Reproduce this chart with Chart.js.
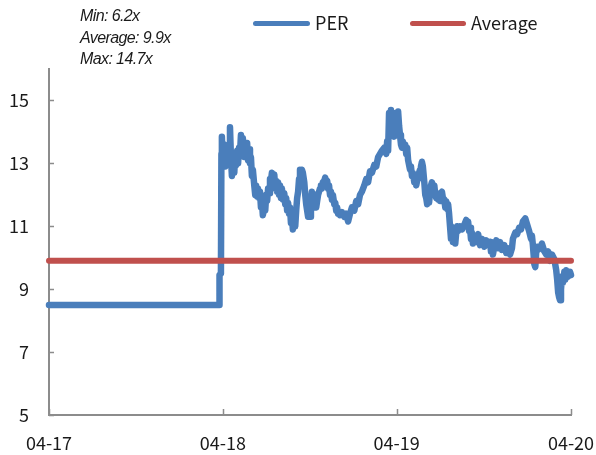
<!DOCTYPE html>
<html>
<head>
<meta charset="utf-8">
<script src="https://cdn.jsdelivr.net/npm/chart.js@4.4.1/dist/chart.umd.min.js"></script>
<style>
  html, body { margin: 0; padding: 0; background: #fff; }
  #wrap { position: relative; width: 596px; height: 455px; overflow: hidden; }
  canvas { position: absolute; left: 0; top: 0; }
  .note { position: absolute; left: 80px; font: italic 16px "Liberation Sans", Arial, sans-serif; color: #1a1a1a; letter-spacing: -0.6px; line-height: 20px; white-space: nowrap; }
  .lg-line { position: absolute; height: 5px; border-radius: 3px; }
  .lg-text { position: absolute; font: 18px "Noto Sans CJK KR", "Noto Sans", sans-serif; color: #1a1a1a; line-height: 22px; white-space: nowrap; }
</style>
</head>
<body>
<div id="wrap">
  <canvas id="c" width="596" height="455"></canvas>
  <div class="note" style="top:6px">Min: 6.2x</div>
  <div class="note" style="top:28px">Average: 9.9x</div>
  <div class="note" style="top:49px">Max: 14.7x</div>
  <div class="lg-line" style="left:253px; top:21px; width:57px; background:#4a7ebb"></div>
  <div class="lg-text" style="left:315px; top:11px">PER</div>
  <div class="lg-line" style="left:410px; top:21px; width:56px; background:#c0504d"></div>
  <div class="lg-text" style="left:471px; top:11px">Average</div>
</div>
<script>
// Trailing P/E multiple, days counted from 2017-04-01
const days = [
  0, 120, 240, 357, 358, 361, 362, 363, 365, 368, 370, 372, 374, 376, 378, 380,
  382, 384, 386, 389, 391, 393, 395, 397, 399, 401, 403, 405, 407, 410, 412, 414,
  416, 418, 420, 422, 424, 426, 428, 431, 433, 435, 437, 439, 441, 443, 445, 447,
  449, 452, 454, 456, 458, 460, 462, 464, 466, 468, 470, 473, 475, 477, 479, 481,
  483, 485, 487, 489, 491, 494, 496, 498, 500, 502, 504, 506, 508, 510, 512, 515,
  517, 519, 521, 523, 525, 527, 529, 531, 533, 536, 538, 540, 542, 544, 546, 548,
  550, 552, 554, 557, 559, 561, 563, 565, 567, 569, 571, 573, 575, 578, 580, 582,
  584, 586, 588, 590, 592, 594, 596, 599, 601, 603, 605, 607, 609, 611, 615, 620,
  624, 628, 632, 636, 641, 645, 649, 653, 657, 662, 666, 670, 674, 678, 683, 687,
  691, 695, 699, 704, 708, 710, 712, 714, 716, 718, 720, 722, 725, 727, 729, 731,
  733, 735, 737, 739, 741, 743, 746, 748, 750, 752, 754, 756, 758, 760, 762, 764,
  767, 769, 771, 773, 775, 777, 779, 781, 783, 785, 788, 790, 792, 794, 796, 798,
  800, 802, 804, 806, 809, 811, 813, 815, 817, 819, 821, 823, 825, 827, 830, 832,
  834, 836, 838, 840, 842, 844, 846, 848, 851, 853, 855, 857, 859, 863, 867, 872,
  876, 878, 880, 882, 884, 886, 888, 890, 893, 897, 901, 905, 909, 914, 918, 922,
  926, 928, 930, 932, 935, 939, 943, 947, 951, 956, 960, 964, 968, 972, 974, 979,
  983, 987, 991, 995, 1000, 1004, 1008, 1012, 1014, 1016, 1019, 1021, 1023, 1025, 1027, 1031,
  1035, 1040, 1044, 1048, 1052, 1056, 1061, 1065, 1067, 1069, 1071, 1073, 1075, 1077, 1079, 1082,
  1084, 1086, 1090, 1094, 1096
];
const per = [
  8.5, 8.5, 8.5, 8.5, 9.45, 9.5, 13.3, 13.85, 13.0, 13.6, 12.9, 13.3, 13.05, 13.5, 13.1, 14.15,
  13.2, 12.6, 13.0, 12.7, 13.3, 12.95, 13.4, 13.0, 13.5, 13.3, 13.9, 13.4, 13.8, 13.2, 13.6, 13.3,
  13.65, 13.1, 13.45, 13.0, 13.2, 12.6, 12.8, 12.3, 12.0, 12.3, 11.95, 12.2, 11.9, 12.1, 11.6, 11.8,
  11.35, 11.6, 11.5, 12.0, 11.8, 12.2, 12.05, 12.5, 12.45, 12.7, 12.4, 12.65, 12.2, 12.45, 12.1, 12.4,
  12.0, 12.3, 11.9, 12.2, 11.85, 12.05, 11.7, 11.9, 11.5, 11.75, 11.4, 11.6, 11.1, 11.3, 10.9, 11.2,
  11.0, 11.5, 11.9, 12.1, 12.5, 12.8, 12.6, 12.8, 12.7, 12.4, 12.0, 11.7, 11.5, 11.3, 11.5, 11.3,
  11.8, 12.1, 11.9, 11.6, 12.0, 11.6, 11.8, 12.0, 12.1, 12.2, 12.3, 12.2, 12.4, 12.45, 12.55, 12.4,
  12.45, 12.2, 12.3, 12.0, 12.1, 11.85, 12.0, 11.7, 11.75, 11.5, 11.6, 11.4, 11.45, 11.35, 11.45, 11.3,
  11.4, 11.15, 11.4, 11.6, 11.5, 11.8, 11.7, 12.0, 12.1, 12.3, 12.5, 12.4, 12.75, 12.7, 12.95, 12.9,
  13.2, 13.3, 13.4, 13.5, 13.3, 13.7, 13.4, 14.6, 14.1, 14.7, 13.9, 14.3, 13.85, 14.0, 14.6, 14.2,
  14.65, 14.2, 13.9, 13.6, 13.5, 13.7, 13.5, 13.6, 13.3, 13.5, 13.1, 12.95, 12.8, 12.9, 12.6, 12.7,
  12.4, 12.5, 12.3, 12.45, 12.5, 12.7, 12.8, 12.9, 13.05, 12.9, 12.4, 12.0, 11.9, 11.7, 11.9, 11.75,
  12.1, 12.3, 12.4, 12.2, 12.3, 12.0, 11.9, 12.05, 11.85, 12.0, 11.8, 12.05, 12.1, 11.9, 11.85, 11.6,
  11.8, 11.55, 11.7, 11.4, 11.0, 10.6, 10.9, 10.5, 10.9, 10.45, 10.8, 11.0, 10.85, 11.0, 10.9, 11.05,
  11.2, 11.05, 11.15, 10.85, 10.95, 10.6, 10.8, 10.45, 10.7, 10.5, 10.75, 10.4, 10.6, 10.35, 10.55, 10.4,
  10.5, 10.2, 10.4, 10.1, 10.35, 10.55, 10.3, 10.5, 10.25, 10.4, 10.15, 10.3, 10.1, 10.3, 10.6, 10.8,
  10.75, 10.95, 10.9, 11.15, 11.25, 11.05, 10.85, 10.6, 10.7, 10.4, 9.8, 9.7, 10.2, 10.35, 10.25, 10.3,
  10.45, 10.2, 10.1, 10.2, 9.9, 10.1, 9.95, 9.6, 9.3, 8.9, 8.75, 8.65, 9.0, 9.4, 9.2, 9.55,
  9.3, 9.6, 9.4, 9.55, 9.45
];

// Period average and its span
const averageValue = 9.9;
const averageDays = [0, 1096];

// Axis ticks
const xTickDays = [0, 365, 730, 1096];
const xTickLabels = ['04-17', '04-18', '04-19', '04-20'];
const yTickValues = [5, 7, 9, 11, 13, 15];

const AXIS_GREY = '#8c8c8c';
const LABEL_FONT = { family: '"Noto Sans CJK KR", "Noto Sans", sans-serif', size: 18 };

// Short tick marks that point into the plot area
const innerTicks = {
  id: 'innerTicks',
  afterDraw(chart) {
    const { ctx, chartArea, scales } = chart;
    ctx.save();
    ctx.strokeStyle = AXIS_GREY;
    ctx.lineWidth = 1.5;
    ctx.beginPath();
    yTickValues.forEach(v => {
      const y = Math.round(scales.y.getPixelForValue(v)) + 0.5;
      ctx.moveTo(chartArea.left, y);
      ctx.lineTo(chartArea.left + 5, y);
    });
    xTickDays.forEach(d => {
      const x = Math.round(scales.x.getPixelForValue(d)) + 0.5;
      ctx.moveTo(x, chartArea.bottom);
      ctx.lineTo(x, chartArea.bottom - 6);
    });
    ctx.stroke();
    ctx.restore();
  }
};

new Chart(document.getElementById('c'), {
  type: 'line',
  data: {
    datasets: [
      {
        label: 'PER',
        data: days.map((d, i) => ({ x: d, y: per[i] })),
        borderColor: '#4a7ebb',
        borderWidth: 6.5,
        borderJoinStyle: 'round',
        borderCapStyle: 'round',
        pointRadius: 0,
        tension: 0,
        order: 1,
        clip: 6
      },
      {
        label: 'Average',
        data: averageDays.map(d => ({ x: d, y: averageValue })),
        borderColor: '#c0504d',
        borderWidth: 6,
        borderCapStyle: 'round',
        pointRadius: 0,
        tension: 0,
        order: 0,
        clip: 6
      }
    ]
  },
  options: {
    responsive: false,
    animation: false,
    devicePixelRatio: 1,
    layout: { padding: { top: 69, right: 25, left: 0, bottom: 0 } },
    plugins: { legend: { display: false }, tooltip: { enabled: false } },
    scales: {
      x: {
        type: 'linear',
        min: 0,
        max: 1096,
        afterBuildTicks: s => { s.ticks = xTickDays.map(v => ({ value: v })); },
        afterFit: s => { s.height = 40; s.paddingLeft = 0; s.paddingRight = 0; },
        grid: { display: false, drawTicks: false },
        border: { display: true, color: AXIS_GREY, width: 2 },
        ticks: {
          autoSkip: false,
          maxRotation: 0,
          padding: 17,
          color: '#1a1a1a',
          font: LABEL_FONT,
          callback: v => xTickLabels[xTickDays.indexOf(v)]
        }
      },
      y: {
        min: 5,
        max: 16,
        afterBuildTicks: s => { s.ticks = yTickValues.map(v => ({ value: v })); },
        afterFit: s => { s.width = 49; s.paddingTop = 0; s.paddingBottom = 0; },
        grid: { display: false, drawTicks: false },
        border: { display: true, color: AXIS_GREY, width: 2 },
        ticks: {
          padding: 20,
          color: '#1a1a1a',
          font: LABEL_FONT
        }
      }
    }
  },
  plugins: [innerTicks]
});
</script>
</body>
</html>
